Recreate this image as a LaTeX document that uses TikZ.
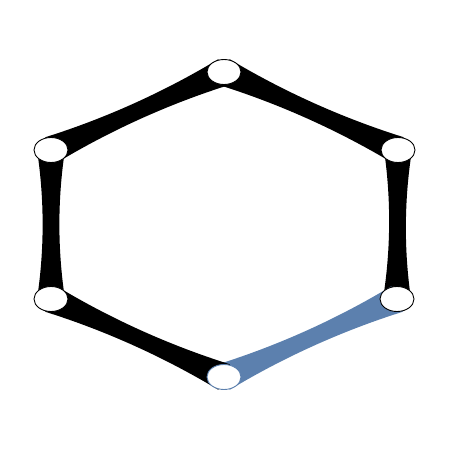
\documentclass[tikz,border=0pt]{standalone}
\usetikzlibrary{calc,shapes.geometric}
\definecolor{eblue}{HTML}{5C80AE}
\tikzset{
  vtx/.style={ellipse, draw=black, fill=white, line width=0.9pt, minimum width=34pt, minimum height=25pt, inner sep=0pt},
}
\newcommand{\he}{14pt}
\newcommand{\hc}{6.5pt}
\newcommand{\tedge}[3]{%
  \fill[#3] ($(#1)!\he!90:(#2)$)
    .. controls ($($(#1)!0.33!(#2)$)!\hc!90:(#2)$) and ($($(#1)!0.67!(#2)$)!\hc!90:(#2)$) ..
    ($(#2)!\he!-90:(#1)$) -- ($(#2)!\he!90:(#1)$)
    .. controls ($($(#1)!0.67!(#2)$)!\hc!-90:(#2)$) and ($($(#1)!0.33!(#2)$)!\hc!-90:(#2)$) ..
    ($(#1)!\he!-90:(#2)$) -- cycle;}
\begin{document}
\begin{tikzpicture}[x=1pt,y=-1pt]
\useasboundingbox (0,0) rectangle (450,450);
\coordinate (c1) at (224,72);
\coordinate (c2) at (398,150);
\coordinate (c3) at (397,299);
\coordinate (c4) at (224,377);
\coordinate (c5) at (51,299);
\coordinate (c6) at (51,150);
\tedge{c1}{c2}{black}
\tedge{c2}{c3}{black}
\tedge{c3}{c4}{eblue}
\tedge{c4}{c5}{black}
\tedge{c5}{c6}{black}
\tedge{c6}{c1}{black}
\node[vtx] (n1) at (c1) {};
\node[vtx] (n2) at (c2) {};
\node[vtx] (n3) at (c3) {};
\node[vtx, draw=eblue] (n4) at (c4) {};
\node[vtx] (n5) at (c5) {};
\node[vtx] (n6) at (c6) {};
\end{tikzpicture}
\end{document}
